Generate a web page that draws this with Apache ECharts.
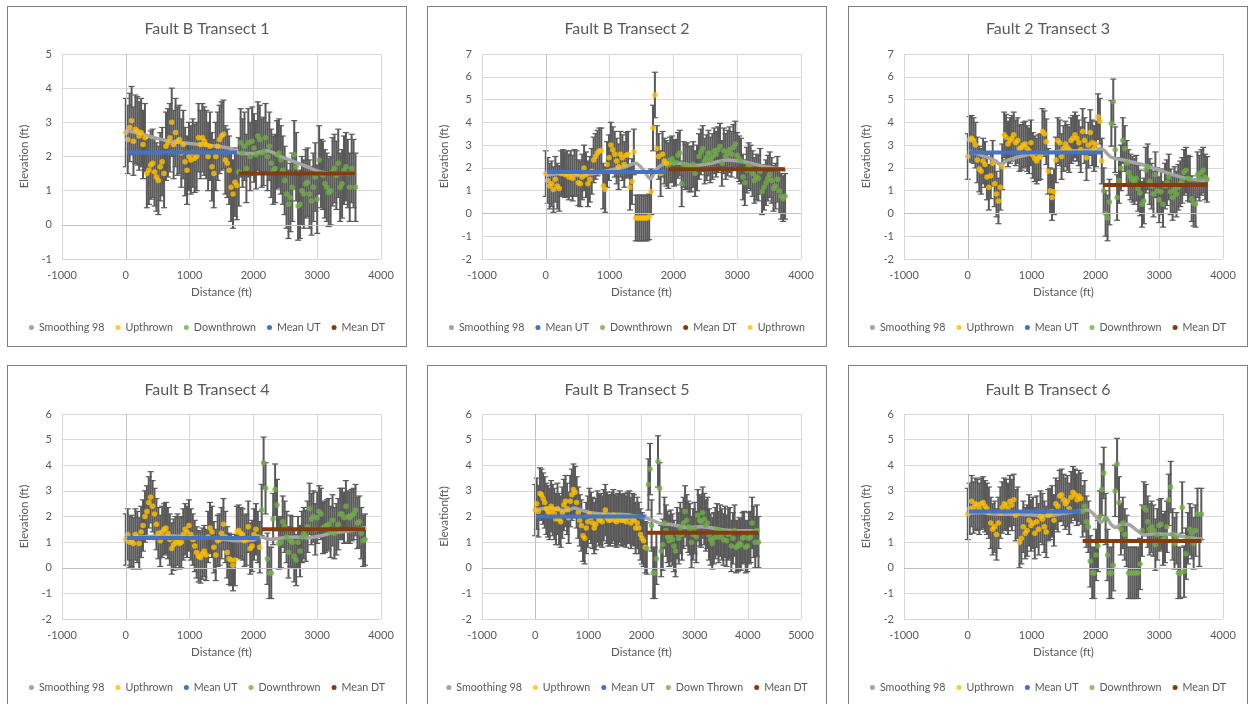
<!DOCTYPE html>
<html>
<head>
<meta charset="utf-8">
<script src="https://cdn.jsdelivr.net/npm/echarts@6/dist/echarts.min.js"></script>
<style>
  html, body { margin: 0; padding: 0; background: #fff; overflow: hidden; width: 1251px; height: 704px; }
  .panel { position: absolute; box-sizing: border-box; width: 400px; height: 341px; border: 1px solid #7f7f7f; background: #fff; }
</style>
</head>
<body>
<div class="panel" id="c1" style="left:7px;top:6px"></div>
<div class="panel" id="c2" style="left:427px;top:6px"></div>
<div class="panel" id="c3" style="left:848px;top:6px"></div>
<div class="panel" id="c4" style="left:7px;top:365px"></div>
<div class="panel" id="c5" style="left:427px;top:365px"></div>
<div class="panel" id="c6" style="left:848px;top:365px"></div>
<script>
// sample spacing along the transect (ft) and error bar half-height (ft)
const STEP = 30;
const ERR = 1;

// ---- Fault B Transect 1
const T1_UP_START = 0;
const T1_UP = [2.7,2.5,2.85,3.05,2.45,2.8,2.75,2.6,2.7,2.35, 2.55,1.5,1.6,1.75,1.8,1.55,1.4,1.3,1.7,1.85,
  1.5,2.3,2.4,2.55,3.0,2.35,2.7,2.45,2.5,2.1, 2.35,1.85,1.6,2.0,1.9,2.1,1.95,2.0,2.55,2.35,
  2.55,2.45,2.35,2.0,2.3,1.7,1.5,2.0,2.3,2.5, 2.6,2.65,1.9,1.8,1.6,1.1,0.9,1.25,1.15];
const T1_DOWN_START = 1770;
const T1_DOWN = [1.55,2.4,2.1,2.3,1.65,2.4,2.0,2.45,2.25,2.05, 2.6,2.5,2.1,2.15,2.55,2.0,2.3,1.8,1.6,1.65,
  2.05,2.1,1.9,1.6,1.3,0.9,0.6,0.8,1.1,2.05, 1.7,0.55,0.6,1.0,0.9,1.2,1.25,0.9,0.7,1.1,
  1.4,0.75,1.9,1.5,1.45,1.2,1.1,0.95,1.0,1.55, 1.65,1.45,1.8,1.1,1.2,1.6,1.7,1.5,1.1,1.65, 1.5,1.1];
const T1_SMOOTH_X = [0,225,487,750,1000,1272,1534,1690,1796,2005,2215,2424,2634,2843,3000,3262,3602];
const T1_SMOOTH_Y = [2.77,2.67,2.53,2.43,2.38,2.33,2.28,2.2,2.09,2.09,2.17,2.0,1.85,1.7,1.58,1.5,1.5];
const T1_MEANS = [2.12, 1.5];

// ---- Fault B Transect 2
const T2_UP_START = 0;
const T2_UP = [1.75,1.45,1.2,1.3,1.05,1.5,1.2,1.1,1.75,1.8, 1.7,1.75,1.6,1.75,1.55,1.8,1.75,1.35,1.3,1.6,
  2.0,1.7,1.3,1.5,1.85,2.35,2.5,2.65,2.75,2.75, 1.2,1.05,2.15,2.45,3.0,2.8,2.6,2.3,2.05,2.6,
  2.45,2.15,2.55,2.6,1.15,1.4,2.7,-0.2,-0.2,-0.2, -0.2,-0.2,-0.2,-0.2,-0.15,0.95,3.75,5.2,2.85,2.5,
  1.75,2.6,2.3,2.2];
const T2_DOWN_START = 1920;
const T2_DOWN = [2.1,2.35,2.4,2.2,2.25,2.55,2.65,1.3,2.15,2.05, 2.1,1.95,1.95,2.15,1.75,2.0,2.5,2.7,2.85,2.3,
  2.45,2.65,2.35,2.5,2.75,2.6,2.8,2.95,2.2,2.75, 2.5,2.65,2.8,2.6,2.9,3.05,2.55,2.4,2.3,1.6,
  1.35,1.9,2.1,2.0,1.75,1.45,1.6,1.55,1.85,0.95, 1.15,1.35,1.55,1.7,1.45,1.1,1.2,1.5,1.0,0.75, 0.65,0.75];
const T2_SMOOTH_X = [16,225,487,749,1010,1272,1403,1534,1639,1743,1901,2110,2319,2581,2843,3105,3366,3628,3759];
const T2_SMOOTH_Y = [1.67,1.75,1.67,1.75,1.9,2.07,2.2,1.9,1.52,1.97,2.2,2.2,2.1,2.2,2.35,2.27,2.1,1.97,1.9];
const T2_MEANS = [1.82, 1.94];

// ---- Fault 2 Transect 3
const T3_UP_START = 0;
const T3_UP = [2.5,3.25,3.3,3.2,3.0,2.35,1.95,1.85,2.3,2.15, 1.6,1.15,1.65,2.2,1.3,0.85,0.55,1.15,2.05,3.45,
  3.35,3.05,3.2,3.3,3.45,3.1,3.2,2.85,2.9,3.0, 3.05,2.85,2.75,3.1,2.55,2.4,2.3,2.45,2.5,3.6,
  3.5,3.15,1.85,1.0,0.7,0.95,2.35,3.2,3.1,2.5, 2.85,3.05,2.9,2.8,3.2,3.3,3.45,3.3,3.1,2.8,
  3.6,3.2,2.45,3.0,3.55,3.1,2.85,3.05,4.25,4.05, 2.3];
const T3_DOWN_START = 2130;
const T3_DOWN = [1.0,0.0,-0.2,0.5,3.95,4.9,2.8,0.7,1.45,2.0, 3.2,2.85,2.2,1.8,1.6,1.5,1.4,1.55,1.1,0.9,
  0.4,0.55,1.9,2.05,1.4,1.2,0.85,1.7,1.0,0.6, 0.95,0.4,1.2,1.35,1.6,0.95,0.7,1.05,0.85,1.15,
  1.3,1.45,1.8,1.9,1.55,1.5,0.65,0.45,0.4,1.7, 1.55,1.8,1.9,1.6,1.5];
const T3_SMOOTH_X = [0,209,417,522,626,835,1043,1252,1513,1774,1982,2087,2243,2452,2713,2973,3234,3443,3652,3771];
const T3_SMOOTH_Y = [2.75,2.56,2.34,2.16,2.34,2.51,2.63,2.66,2.75,2.75,2.8,2.85,2.48,2.34,2.16,1.93,1.68,1.53,1.46,1.46];
const T3_MEANS = [2.68, 1.25];

// ---- Fault B Transect 4
const T4_UP_START = 0;
const T4_UP = [1.1,1.3,1.0,1.05,0.95,1.3,1.2,0.95,1.4,1.65, 2.0,2.2,2.55,2.75,2.4,2.1,1.7,1.35,1.05,1.4,
  1.5,1.55,1.35,1.1,0.75,0.9,1.0,1.1,0.95,1.0, 1.3,1.5,1.4,1.65,1.3,1.1,0.85,0.6,0.45,0.4,
  0.55,0.65,0.5,1.2,1.55,1.4,0.8,0.5,1.05,1.1, 1.35,1.7,1.2,0.6,0.35,0.3,0.1,0.3,1.4,1.45,
  1.35,1.3,1.05,1.1,1.6,0.75,0.85,1.3,1.5,1.2, 0.8];
const T4_DOWN_START = 2130;
const T4_DOWN = [2.25,4.1,3.1,0.35,-0.2,-0.2,1.9,3.05,2.45,0.95, 1.0,1.8,1.6,1.2,0.6,1.05,1.0,0.45,0.3,1.0,
  0.65,1.2,1.35,1.25,1.6,2.3,1.9,2.0,1.5,1.95, 2.2,2.1,1.55,1.6,1.65,1.7,1.4,1.85,1.35,1.5,
  1.7,2.1,2.1,1.95,2.4,2.0,1.95,2.05,2.1,2.25, 1.75,1.8,1.35,1.05,1.1];
const T4_SMOOTH_X = [0,225,486,748,1009,1270,1532,1793,2002,2107,2263,2473,2682,2838,3047,3257,3518,3769];
const T4_SMOOTH_Y = [1.15,1.2,1.24,1.24,1.2,1.17,1.11,1.05,1.08,1.2,1.11,1.17,1.2,1.17,1.24,1.37,1.44,1.57];
const T4_MEANS = [1.16, 1.5];

// ---- Fault B Transect 5
const T5_UP_START = 0;
const T5_UP = [2.25,2.5,2.2,2.9,2.85,2.7,2.55,2.3,2.2,2.1, 2.4,2.25,2.1,1.9,2.3,1.9,1.8,2.15,2.45,2.6,
  2.3,1.95,2.6,2.85,3.05,2.95,2.55,2.15,1.85,1.65, 1.25,1.15,1.55,1.8,2.1,1.95,1.75,1.55,1.7,2.0,
  1.85,1.9,1.8,2.05,2.25,1.95,1.85,1.85,1.95,2.05, 1.85,1.8,1.9,2.0,1.85,1.85,1.9,1.8,1.95,2.0,
  1.75,1.9,1.85,1.55,1.75,1.55,1.3,1.15,1.05,0.8];
const T5_DOWN_START = 2100;
const T5_DOWN = [0.75,3.25,3.85,1.65,-0.2,-0.2,0.35,4.15,3.1,0.65, 0.9,1.75,1.45,1.2,1.05,1.25,1.1,0.85,0.65,1.35,
  1.15,1.55,1.3,1.75,2.2,1.85,1.6,1.5,1.0,1.3, 1.55,1.2,2.05,1.85,1.8,2.15,1.9,1.65,1.75,1.3,
  1.1,0.95,1.15,1.35,1.5,1.2,1.45,1.3,1.1,1.4, 1.05,1.3,1.35,0.85,1.15,1.45,0.8,0.85,0.95,0.9,
  1.15,1.2,0.8,0.85,1.15,1.2,1.75,1.4,1.0,1.45, 1.0];
const T5_SMOOTH_X = [0,288,601,727,915,1103,1416,1729,1980,2105,2231,2356,2607,2857,3108,3358,3609,3922,4217];
const T5_SMOOTH_Y = [2.26,2.33,2.22,2.33,2.22,2.13,2.09,2.07,1.99,1.93,1.83,1.73,1.67,1.57,1.6,1.54,1.46,1.44,1.44];
const T5_MEANS = [2.0, 1.37];

// ---- Fault B Transect 6
const T6_UP_START = 0;
const T6_UP = [2.1,2.3,2.6,2.35,2.5,2.45,2.3,2.5,2.55,2.4, 2.3,2.15,1.75,1.5,1.6,1.3,1.75,2.15,2.35,2.5,
  2.45,2.3,2.6,2.45,2.65,2.05,2.15,1.0,1.15,1.6, 1.35,1.45,1.85,1.65,1.75,1.35,1.8,1.5,2.0,1.9,
  1.6,1.4,2.05,2.1,2.2,1.85,2.5,2.4,2.8,2.85, 2.65,2.5,2.6,2.3,2.75,2.95,2.85,2.65,2.8,2.7];
const T6_DOWN_START = 1800;
const T6_DOWN = [2.2,2.4,1.8,1.6,0.25,-0.2,-0.2,0.5,0.85,2.0, 3.05,3.7,1.9,0.5,-0.2,-0.2,0.1,3.0,4.05,2.55,
  1.5,1.75,1.3,1.05,-0.2,-0.2,-0.2,-0.2,-0.2,-0.2, 0.15,1.45,2.35,2.25,1.8,1.5,1.6,1.45,0.9,1.3,
  1.65,1.7,1.1,1.2,1.6,2.65,3.15,1.3,0.95,1.15, -0.2,-0.2,2.35,-0.15,0.55,1.15,1.5,1.35,0.95,1.45,
  2.1,1.05,2.1];
const T6_SMOOTH_X = [0,209,470,730,991,1252,1513,1774,1878,2035,2087,2165,2243,2321,2400,2504,2660,2765,2921,3130,3234,3339,3443,3678];
const T6_SMOOTH_Y = [2.13,2.16,2.09,2.09,2.07,2.03,2.13,2.22,2.25,1.93,1.77,1.96,1.7,1.57,1.7,1.7,1.44,1.28,1.33,1.31,1.31,1.24,1.18,1.11];
const T6_MEANS = [2.2, 1.04];

const FONT = 'Lato, "Open Sans", sans-serif';
const TEXT = '#595959';

function pairs(start, ys) {
  return ys.map((y, i) => [start + i * STEP, y]);
}

// vertical error bars with caps, placed through the axes
function errorBars(pts) {
  return {
    type: 'custom',
    silent: true,
    z: 1,
    data: pts.map(p => [p[0], p[1] - ERR, p[1] + ERR]),
    encode: {x: 0, y: [1, 2]},
    renderItem: function (params, api) {
      var lo = api.coord([api.value(0), api.value(1)]);
      var hi = api.coord([api.value(0), api.value(2)]);
      var st = {stroke: '#595959', lineWidth: 2};
      var w = 3;
      return {
        type: 'group',
        children: [
          {type: 'line', shape: {x1: lo[0], y1: lo[1], x2: hi[0], y2: hi[1]}, style: st},
          {type: 'line', shape: {x1: lo[0] - w, y1: lo[1], x2: lo[0] + w, y2: lo[1]}, style: {stroke: '#595959', lineWidth: 1.2}},
          {type: 'line', shape: {x1: hi[0] - w, y1: hi[1], x2: hi[0] + w, y2: hi[1]}, style: {stroke: '#595959', lineWidth: 1.2}}
        ]
      };
    }
  };
}

function build(id, p) {
  var chart = echarts.init(document.getElementById(id));
  var up = pairs(p.upStart, p.up);
  var down = pairs(p.downStart, p.down);
  var smooth = p.smoothX.map((x, i) => [x, p.smoothY[i]]);

  var byName = {
    'Smoothing 98': {type: 'line', data: smooth, smooth: 0.3, showSymbol: false, z: 2,
      lineStyle: {color: '#a5a5a5', width: 3.5}, itemStyle: {color: '#a5a5a5'}},
    'Upthrown': {type: 'scatter', data: up, symbolSize: 5.5, z: 3, itemStyle: {color: '#ffc000'}},
    'Mean UT': {type: 'line', data: [[up[0][0], p.means[0]], [up[up.length - 1][0], p.means[0]]],
      showSymbol: false, z: 4, lineStyle: {color: '#4472c4', width: 4}, itemStyle: {color: '#4472c4'}},
    'Mean DT': {type: 'line', data: [[down[0][0], p.means[1]], [down[down.length - 1][0], p.means[1]]],
      showSymbol: false, z: 4, lineStyle: {color: '#843c0c', width: 4}, itemStyle: {color: '#843c0c'}}
  };
  byName[p.downName] = {type: 'scatter', data: down, symbolSize: 5.5, z: 3, itemStyle: {color: '#70ad47'}};

  var series = [
    {type: 'line', data: [], silent: true, z: 0,
      markLine: {silent: true, symbol: 'none', animation: false, label: {show: false},
        lineStyle: {color: '#bfbfbf', width: 1, type: 'solid'},
        data: [{xAxis: 0}, {yAxis: 0}]}},
    errorBars(up),
    errorBars(down)
  ].concat(p.legend.map(n => Object.assign({name: n}, byName[n])));

  chart.setOption({
    animation: false,
    textStyle: {fontFamily: FONT},
    title: {
      text: p.title, left: 'center', top: p.titleTop, padding: 0,
      textStyle: {fontFamily: FONT, fontSize: 16, fontWeight: 'normal', color: TEXT}
    },
    legend: {
      data: p.legend, bottom: p.legendBottom, left: 'center', padding: 0,
      icon: 'circle', itemWidth: 5, itemHeight: 5, itemGap: 11,
      textStyle: {fontFamily: FONT, fontSize: 10.7, color: TEXT}
    },
    grid: {left: p.left, top: p.top, width: 319, height: 205, containLabel: false},
    xAxis: {
      type: 'value', min: p.xMin, max: p.xMax, interval: 1000,
      name: 'Distance (ft)', nameLocation: 'middle', nameGap: 27,
      nameTextStyle: {fontFamily: FONT, fontSize: 11.5, color: TEXT},
      axisLine: {show: false}, axisTick: {show: false},
      axisLabel: {fontFamily: FONT, fontSize: 11, color: TEXT, margin: 11, formatter: v => String(v)},
      splitLine: {lineStyle: {color: '#d9d9d9'}}
    },
    yAxis: {
      type: 'value', min: p.yMin, max: p.yMax, interval: 1,
      name: p.yName, nameLocation: 'middle', nameGap: 21,
      nameTextStyle: {fontFamily: FONT, fontSize: 11.5, color: TEXT},
      axisLine: {show: false}, axisTick: {show: false},
      axisLabel: {fontFamily: FONT, fontSize: 11, color: TEXT, margin: 10},
      splitLine: {lineStyle: {color: '#d9d9d9'}}
    },
    series: series
  });
}

const STD = ['Smoothing 98', 'Upthrown', 'Mean UT', 'Downthrown', 'Mean DT'];
const ROW1 = {top: 47, titleTop: 14, legendBottom: 13};
const ROW2 = {top: 48, titleTop: 16, legendBottom: 12};

build('c1', Object.assign({title: 'Fault B Transect 1', left: 54, xMin: -1000, xMax: 4000, yMin: -1, yMax: 5,
  yName: 'Elevation (ft)', downName: 'Downthrown',
  legend: ['Smoothing 98', 'Upthrown', 'Downthrown', 'Mean UT', 'Mean DT'],
  upStart: T1_UP_START, up: T1_UP, downStart: T1_DOWN_START, down: T1_DOWN,
  smoothX: T1_SMOOTH_X, smoothY: T1_SMOOTH_Y, means: T1_MEANS}, ROW1));

build('c2', Object.assign({title: 'Fault B Transect 2', left: 54, xMin: -1000, xMax: 4000, yMin: -2, yMax: 7,
  yName: 'Elevation (ft)', downName: 'Downthrown',
  legend: ['Smoothing 98', 'Mean UT', 'Downthrown', 'Mean DT', 'Upthrown'],
  upStart: T2_UP_START, up: T2_UP, downStart: T2_DOWN_START, down: T2_DOWN,
  smoothX: T2_SMOOTH_X, smoothY: T2_SMOOTH_Y, means: T2_MEANS}, ROW1));

build('c3', Object.assign({title: 'Fault 2 Transect 3', left: 55, xMin: -1000, xMax: 4000, yMin: -2, yMax: 7,
  yName: 'Elevation (ft)', downName: 'Downthrown', legend: STD,
  upStart: T3_UP_START, up: T3_UP, downStart: T3_DOWN_START, down: T3_DOWN,
  smoothX: T3_SMOOTH_X, smoothY: T3_SMOOTH_Y, means: T3_MEANS}, ROW1));

build('c4', Object.assign({title: 'Fault B Transect 4', left: 54, xMin: -1000, xMax: 4000, yMin: -2, yMax: 6,
  yName: 'Elevation (ft)', downName: 'Downthrown', legend: STD,
  upStart: T4_UP_START, up: T4_UP, downStart: T4_DOWN_START, down: T4_DOWN,
  smoothX: T4_SMOOTH_X, smoothY: T4_SMOOTH_Y, means: T4_MEANS}, ROW2));

build('c5', Object.assign({title: 'Fault B Transect 5', left: 54, xMin: -1000, xMax: 5000, yMin: -2, yMax: 6,
  yName: 'Elevation(ft)', downName: 'Down Thrown',
  legend: ['Smoothing 98', 'Upthrown', 'Mean UT', 'Down Thrown', 'Mean DT'],
  upStart: T5_UP_START, up: T5_UP, downStart: T5_DOWN_START, down: T5_DOWN,
  smoothX: T5_SMOOTH_X, smoothY: T5_SMOOTH_Y, means: T5_MEANS}, ROW2));

build('c6', Object.assign({title: 'Fault B Transect 6', left: 55, xMin: -1000, xMax: 4000, yMin: -2, yMax: 6,
  yName: 'Elevation (ft)', downName: 'Downthrown', legend: STD,
  upStart: T6_UP_START, up: T6_UP, downStart: T6_DOWN_START, down: T6_DOWN,
  smoothX: T6_SMOOTH_X, smoothY: T6_SMOOTH_Y, means: T6_MEANS}, ROW2));
</script>
</body>
</html>
